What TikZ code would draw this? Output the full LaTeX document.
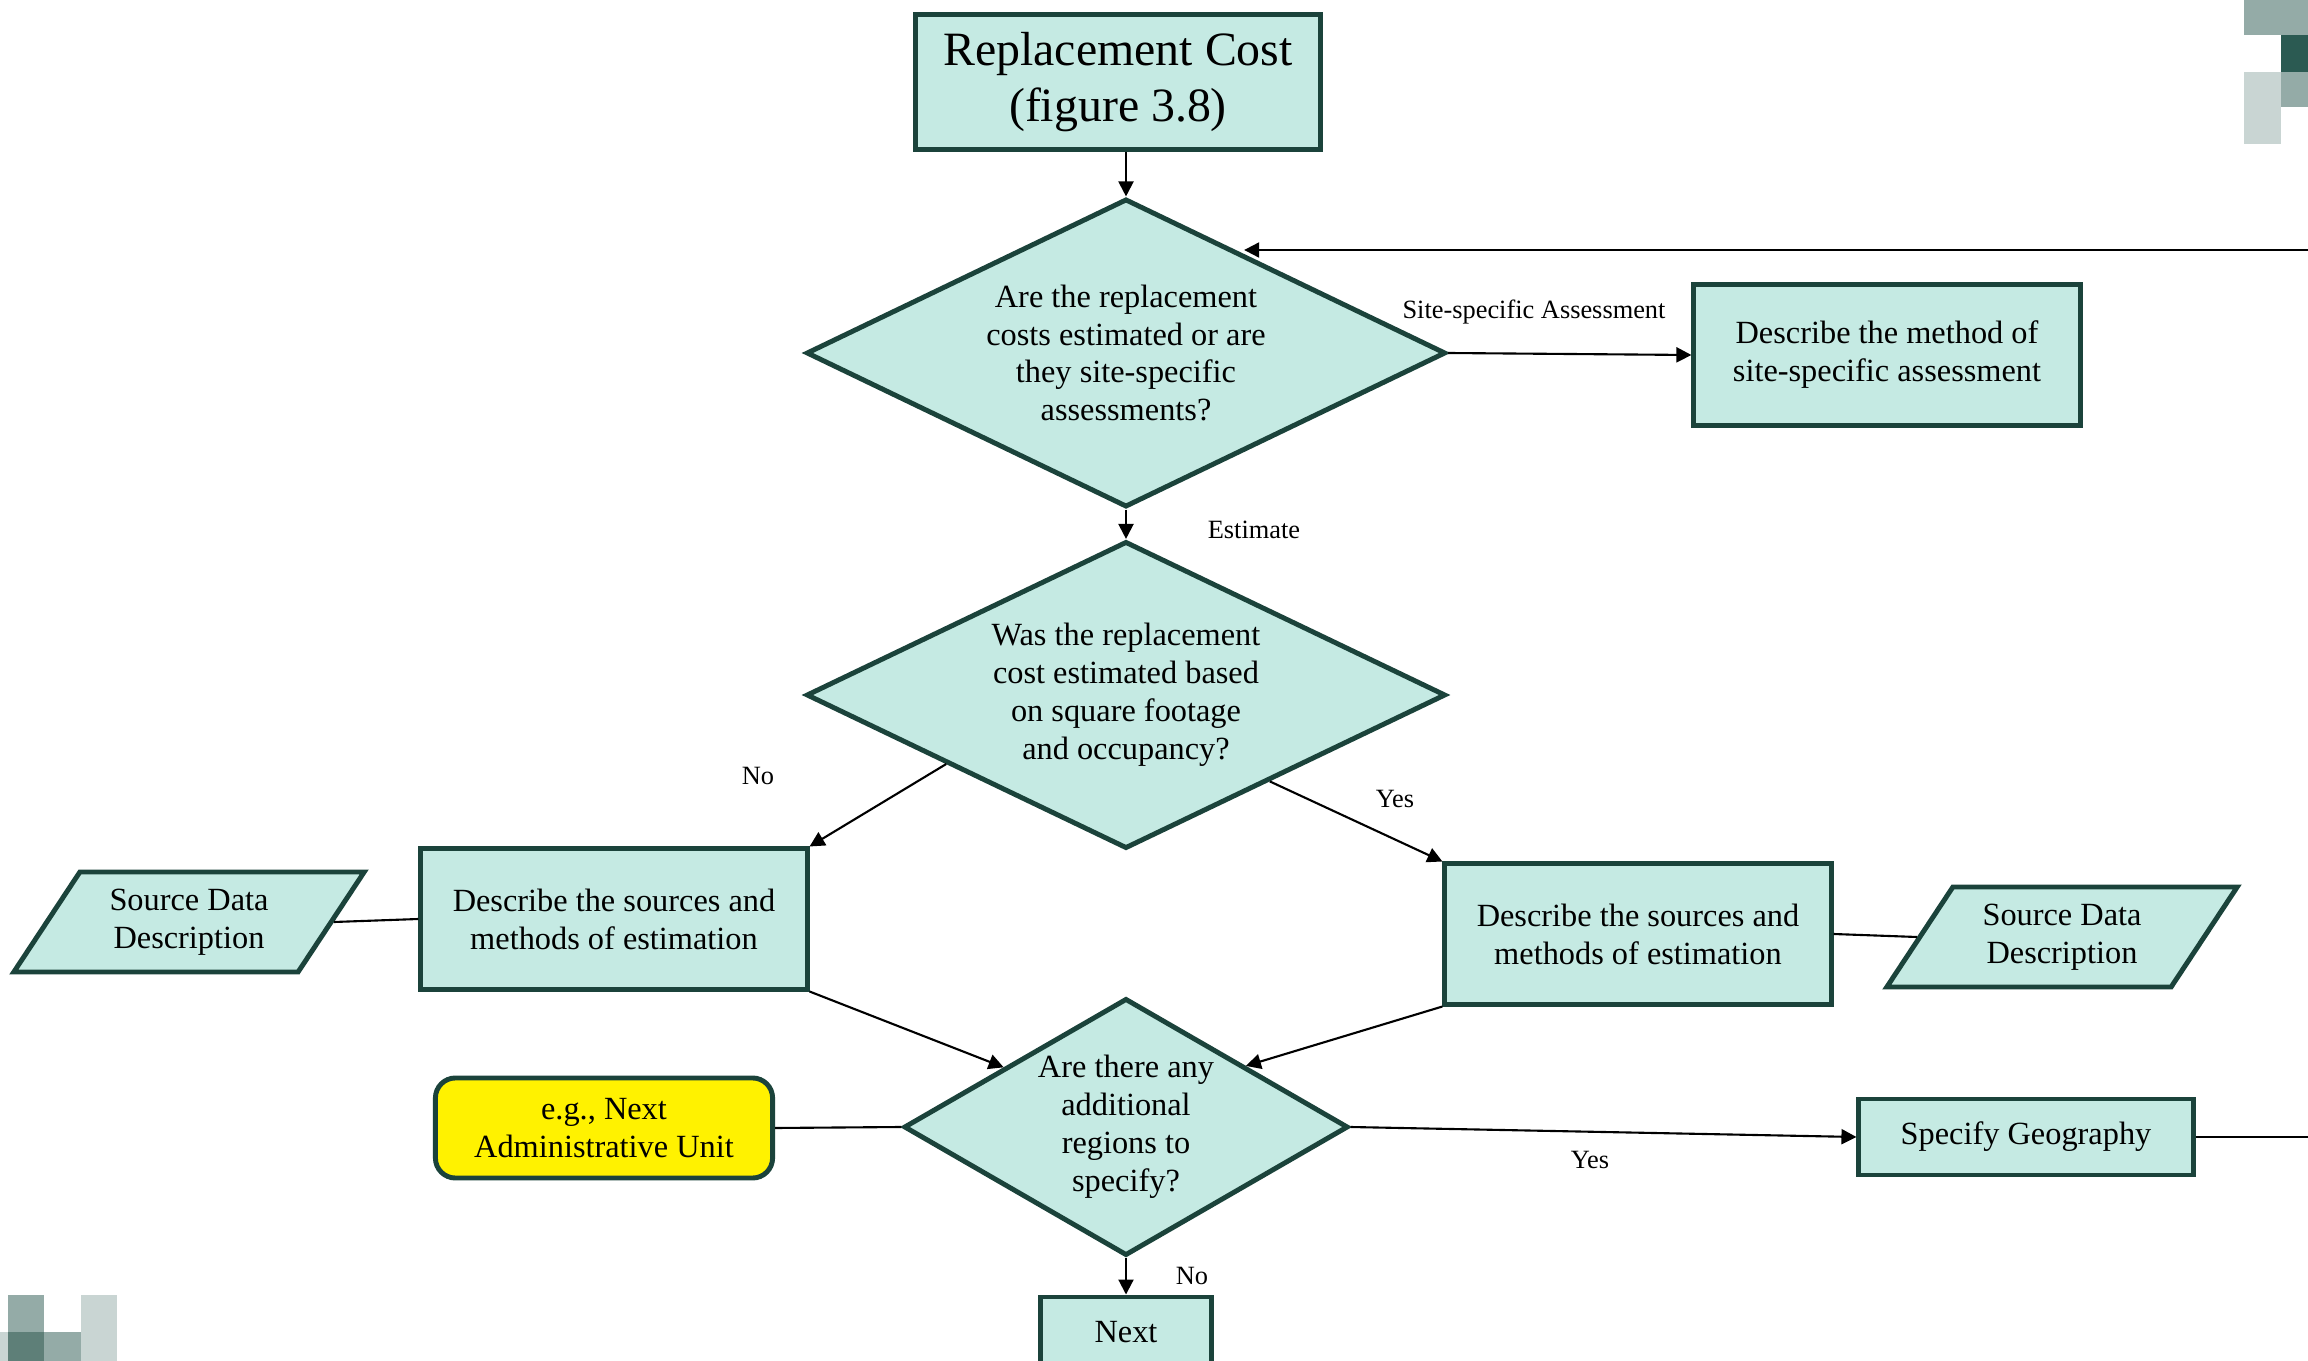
\documentclass[tikz,border=0pt]{standalone}
\usepackage{fontspec}
\setmainfont{Liberation Serif}
\usetikzlibrary{shapes.geometric,arrows.meta}
\definecolor{nodefill}{HTML}{C5EAE3}
\definecolor{nodeline}{HTML}{1B433B}
\definecolor{sqmid}{HTML}{94ABA7}
\definecolor{sqdark}{HTML}{2B5A52}
\definecolor{sqlight}{HTML}{C9D5D3}
\definecolor{sqdeep}{HTML}{5E7F78}

\begin{document}
\begin{tikzpicture}[x=0.01cm,y=-0.01cm,
  box/.style={draw=nodeline,fill=nodefill,line width=1.4pt,align=center,inner sep=0pt,
    font=\fontsize{9.2}{10.8}\selectfont},
  decision/.style={box,diamond,aspect=#1},
  data/.style={box,trapezium,trapezium left angle=54,trapezium right angle=126,
    trapezium stretches,minimum width=3.52cm,minimum height=1cm},
  lbl/.style={font=\fontsize{7.5}{9}\selectfont},
  arr/.style={-{Triangle[length=1.5mm,width=1.5mm]},line width=0.6pt},
  link/.style={line width=0.6pt}]
\useasboundingbox (0,0) rectangle (2308,1361);
\fill[sqmid] (2244,0) rectangle (2308,35);
\fill[sqdark] (2281,35) rectangle (2308,72);
\fill[sqmid] (2281,72) rectangle (2308,107);
\fill[sqlight] (2244,72) rectangle (2281,144);
\fill[sqlight] (0,1332) rectangle (8,1361);
\fill[sqmid] (8,1295) rectangle (44,1332);
\fill[sqdeep] (8,1332) rectangle (44,1361);
\fill[sqmid] (44,1332) rectangle (81,1361);
\fill[sqlight] (81,1295) rectangle (117,1361);

\node [box,minimum width=4.04cm,minimum height=1.35cm,font=\fontsize{13.6}{15.9}\selectfont]
  (cost) at (1118,82) {Replacement Cost\\(figure 3.8)};
\node [decision=2.07,minimum width=6.39cm,minimum height=3.08cm] (d1) at (1126,353)
  {Are the replacement\\costs estimated or are\\they site-specific\\assessments?};
\node [box,minimum width=3.86cm,minimum height=1.41cm] (site) at (1887,355)
  {Describe the method of\\site-specific assessment};
\node [decision=2.07,minimum width=6.39cm,minimum height=3.07cm] (d2) at (1126,695)
  {Was the replacement\\cost estimated based\\on square footage\\and occupancy?};
\node [box,minimum width=3.86cm,minimum height=1.40cm] (lmeth) at (614,919)
  {Describe the sources and\\methods of estimation};
\node [box,minimum width=3.86cm,minimum height=1.40cm] (rmeth) at (1638,934)
  {Describe the sources and\\methods of estimation};
\node [data] (lsrc) at (189,922) {Source Data\\Description};
\node [data] (rsrc) at (2062,937) {Source Data\\Description};
\node [decision=1.73,minimum width=4.44cm,minimum height=2.57cm] (d3) at (1126,1127)
  {Are there any\\additional\\regions to\\specify?};
\node [box,fill=yellow,rounded corners=0.2cm,minimum width=3.37cm,minimum height=1cm]
  (unit) at (604,1128) {e.g., Next\\Administrative Unit};
\node [box,minimum width=3.34cm,minimum height=0.76cm] (geo) at (2026,1137) {Specify Geography};
\node [box,minimum width=1.71cm,minimum height=0.7cm] (next) at (1126,1332) {Next};

\coordinate (loopin) at (2330,250);
\coordinate (geoout) at (2330,1137);

\draw[arr] (d1.north |- cost.south) -- (d1.north);
\draw[arr] (d1.east) -- (site.west);
\draw[arr] (loopin) -- (loopin -| d1.40);
\draw[arr] (d1.south) -- (d2.north);
\draw[arr] (d2.201) -- (lmeth.north east);
\draw[arr] (d2.329) -- (rmeth.north west);
\draw[link] (lsrc.east) -- (lmeth.west);
\draw[link] (rmeth.east) -- (rsrc.west);
\draw[arr] (lmeth.south east) -- (d3.154);
\draw[arr] (rmeth.south west) -- (d3.27);
\draw[link] (unit.east) -- (d3.west);
\draw[arr] (d3.east) -- (geo.west);
\draw[link] (geo.east) -- (geoout);
\draw[arr] (d3.south) -- (next.north);

\node[lbl] (lsite) at (1534,312) {Site-specific Assessment};
\node[lbl] (lest) at (1254,530) {Estimate};
\node[lbl] (lno1) at (758,776) {No};
\node[lbl] (lyes1) at (1395,799) {Yes};
\node[lbl] (lyes2) at (1590,1160) {Yes};
\node[lbl] (lno2) at (1192,1276) {No};
\end{tikzpicture}
\end{document}
